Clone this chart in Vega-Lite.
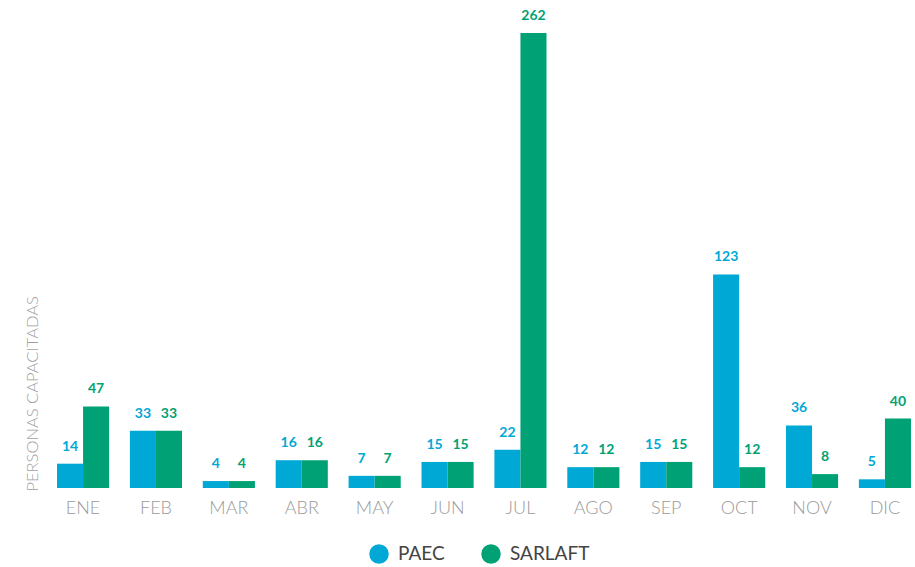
{
  "$schema": "https://vega.github.io/schema/vega-lite/v6.json",
  "width": 854,
  "height": 455,
  "autosize": {"type": "none"},
  "padding": {"left": 57, "top": 33, "right": 4, "bottom": 79},
  "background": "white",
  "config": {"view": {"stroke": null}, "font": "Lato"},
  "data": {"values": [
    {"mes": "ENE", "serie": "PAEC", "valor": 14}, {"mes": "ENE", "serie": "SARLAFT", "valor": 47},
    {"mes": "FEB", "serie": "PAEC", "valor": 33}, {"mes": "FEB", "serie": "SARLAFT", "valor": 33},
    {"mes": "MAR", "serie": "PAEC", "valor": 4}, {"mes": "MAR", "serie": "SARLAFT", "valor": 4},
    {"mes": "ABR", "serie": "PAEC", "valor": 16}, {"mes": "ABR", "serie": "SARLAFT", "valor": 16},
    {"mes": "MAY", "serie": "PAEC", "valor": 7}, {"mes": "MAY", "serie": "SARLAFT", "valor": 7},
    {"mes": "JUN", "serie": "PAEC", "valor": 15}, {"mes": "JUN", "serie": "SARLAFT", "valor": 15},
    {"mes": "JUL", "serie": "PAEC", "valor": 22}, {"mes": "JUL", "serie": "SARLAFT", "valor": 262},
    {"mes": "AGO", "serie": "PAEC", "valor": 12}, {"mes": "AGO", "serie": "SARLAFT", "valor": 12},
    {"mes": "SEP", "serie": "PAEC", "valor": 15}, {"mes": "SEP", "serie": "SARLAFT", "valor": 15},
    {"mes": "OCT", "serie": "PAEC", "valor": 123}, {"mes": "OCT", "serie": "SARLAFT", "valor": 12},
    {"mes": "NOV", "serie": "PAEC", "valor": 36}, {"mes": "NOV", "serie": "SARLAFT", "valor": 8},
    {"mes": "DIC", "serie": "PAEC", "valor": 5}, {"mes": "DIC", "serie": "SARLAFT", "valor": 40}
  ]},
  "encoding": {
    "x": {
      "field": "mes", "type": "nominal", "sort": null,
      "scale": {"paddingInner": 0.285, "paddingOuter": 0},
      "axis": {"title": null, "labelAngle": 0, "labelFontSize": 18, "labelColor": "#9a9a9a", "labelFontWeight": 300, "ticks": false, "domain": false, "labelPadding": 11}
    },
    "xOffset": {"field": "serie", "type": "nominal", "scale": {"paddingInner": 0, "paddingOuter": 0}},
    "y": {
      "field": "valor", "type": "quantitative",
      "scale": {"domain": [0, 262], "nice": false},
      "axis": {"title": "PERSONAS CAPACITADAS", "labels": false, "ticks": false, "domain": false, "grid": false,
        "titleFontSize": 16.5, "titleFontWeight": 300, "titleColor": "#a0a0a0", "titleAngle": -90,
        "titleX": -25, "titleY": 458, "titleAlign": "left", "titleBaseline": "middle"}
    },
    "color": {
      "field": "serie", "type": "nominal",
      "scale": {"domain": ["PAEC", "SARLAFT"], "range": ["#00A8D6", "#00A275"]},
      "legend": {"title": null, "orient": "none", "legendX": 312, "legendY": 511, "direction": "horizontal",
        "symbolType": "circle", "symbolSize": 380, "symbolStrokeWidth": 0, "labelFontSize": 19, "labelColor": "#444444",
        "labelFontWeight": 400, "columnPadding": 36, "labelOffset": 9}
    }
  },
  "layer": [
    {"mark": {"type": "bar"}},
    {"mark": {"type": "text", "baseline": "bottom", "dy": -10, "fontSize": 14, "fontWeight": "bold"},
     "encoding": {"text": {"field": "valor", "type": "quantitative"}}}
  ]
}
